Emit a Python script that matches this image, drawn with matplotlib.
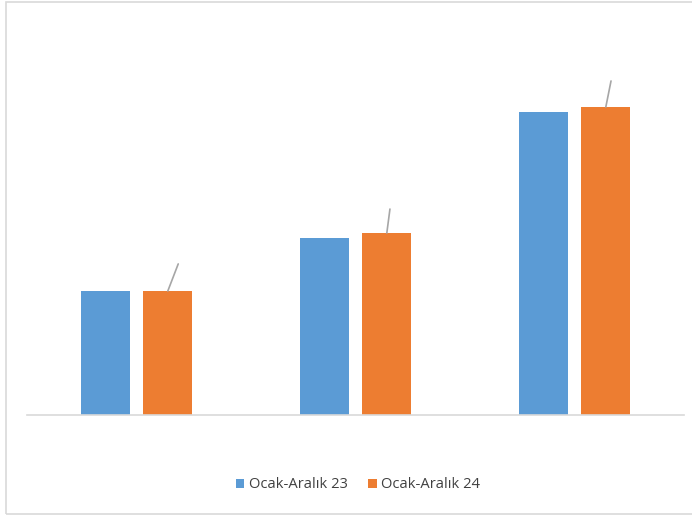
import matplotlib.pyplot as plt
from matplotlib.patches import Rectangle
import numpy as np

# three periods, two series (arbitrary units)
groups = ["A", "B", "C"]
series_23 = [124, 177, 303]
series_24 = [124, 182, 308]
labels = ["Ocak-Aralık 23", "Ocak-Aralık 24"]
colors = ["#5B9BD5", "#ED7D31"]

plt.rcParams['font.family'] = ['Open Sans', 'DejaVu Sans']

fig = plt.figure(figsize=(6.92, 5.18), dpi=100)
# light frame around the whole chart
fig.patches.append(Rectangle((6 / 692, 4 / 518), 690 / 692, 512 / 518, transform=fig.transFigure,
                             fill=False, edgecolor="#d9d9d9", linewidth=1.2))

ax = fig.add_axes([27 / 692, (518 - 415) / 518, 657 / 692, 385 / 518])
x = np.arange(len(groups))
w = 0.224
b1 = ax.bar(x - 0.143, series_23, w, color=colors[0], label=labels[0])
b2 = ax.bar(x + 0.143, series_24, w, color=colors[1], label=labels[1])

# leftover leader lines of removed data labels
offsets = [(10, 26), (3, 23), (5, 25)]
for xi, v, (dx, dy) in zip(x + 0.143, series_24, offsets):
    ax.annotate("", xy=(xi, v), xytext=(dx * 0.75, dy * 0.75), textcoords="offset points",
                arrowprops=dict(arrowstyle="-", color="#a6a6a6", lw=1.2, shrinkA=0, shrinkB=0))

ax.set_xlim(-0.5, 2.5)
ax.set_ylim(0, 385)
ax.set_xticks([])
ax.set_yticks([])
for s in ["top", "right", "left"]:
    ax.spines[s].set_visible(False)
ax.spines["bottom"].set_color("#d9d9d9")
ax.spines["bottom"].set_linewidth(1.2)

fig.legend(handles=[b1, b2], loc="center", bbox_to_anchor=(358 / 692, (518 - 485) / 518), ncol=2,
           frameon=False, fontsize=10.6, handlelength=0.6, handleheight=0.6, handletextpad=0.3,
           columnspacing=1.4, labelcolor="#404040")

fig.savefig("out.png", dpi=100)
